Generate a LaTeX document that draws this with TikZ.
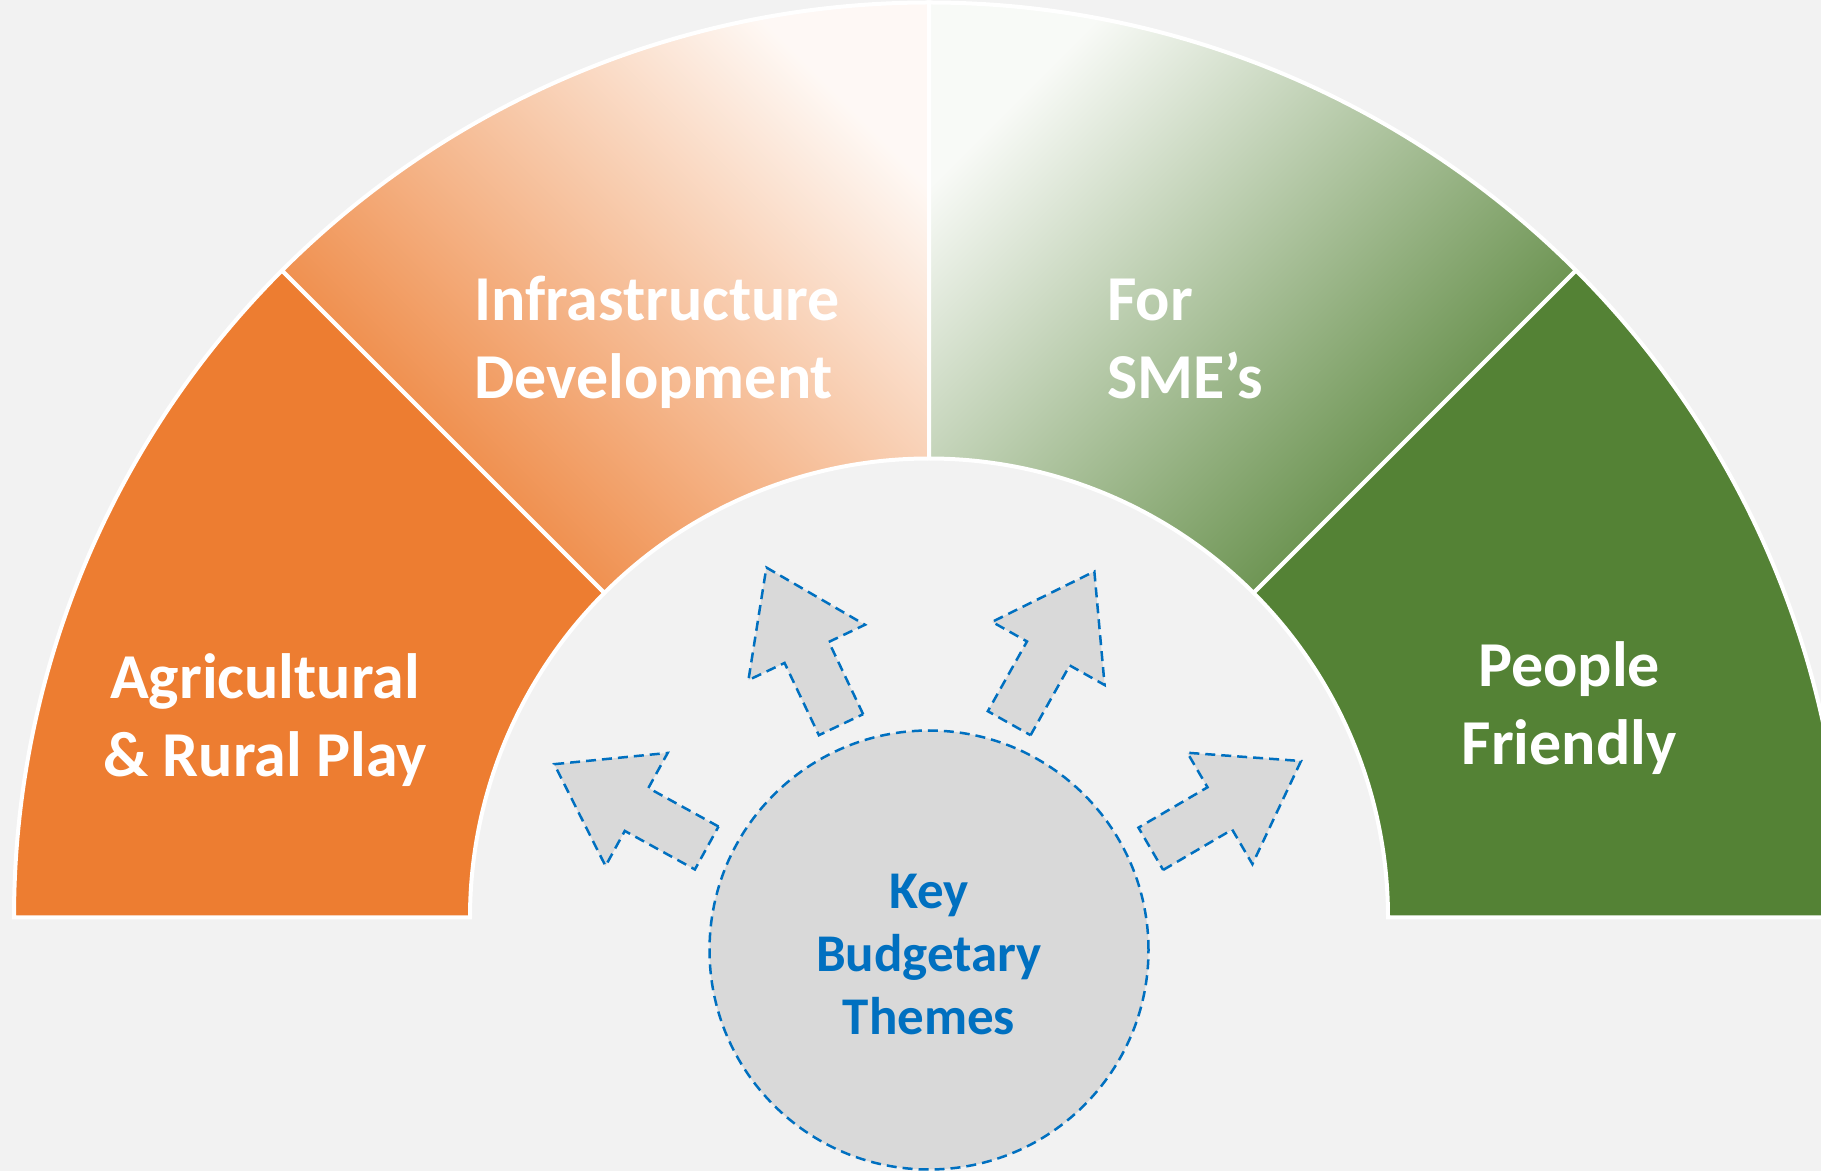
\documentclass[tikz,border=0pt]{standalone}
\usepackage{fontspec}
\setmainfont{Carlito}
\usetikzlibrary{calc}
\definecolor{bg}{HTML}{F2F2F2}
\definecolor{agri}{HTML}{ED7D31}
\definecolor{people}{HTML}{548235}
\definecolor{hub}{HTML}{D9D9D9}
\definecolor{hubblue}{HTML}{0070C0}
\begin{document}
\begin{tikzpicture}[x=1pt,y=1pt,
  seg/.style={draw=white, line width=4pt, line join=miter},
  seglabel/.style={text=white, font=\fontsize{64}{78}\selectfont\bfseries, inner sep=0pt},
  hubline/.style={draw=hubblue, line width=2.5pt, dash pattern=on 10pt off 6pt},
  blockarrow/.pic={\path[fill=hub, hubline] (0,-24.5) -- (80,-24.5) -- (80,-64.5) -- (174,0) -- (80,64.5) -- (80,24.5) -- (0,24.5) -- cycle;}
]
\fill[bg] (0,0) rectangle (1821,1171);
\clip (0,0) rectangle (1821,1171);
\coordinate (C) at (929,253.5);
\def\Ro{915}\def\Ri{459}
% the four ring segments, left to right
\path[seg, fill=agri] ($(C)+(180:\Ro)$) arc[start angle=180, end angle=135, radius=\Ro]
  -- ($(C)+(135:\Ri)$) arc[start angle=135, end angle=180, radius=\Ri] -- cycle;
\path[seg, shade, top color=agri!5!white, bottom color=agri, shading angle=-45] ($(C)+(135:\Ro)$) arc[start angle=135, end angle=90, radius=\Ro]
  -- ($(C)+(90:\Ri)$) arc[start angle=90, end angle=135, radius=\Ri] -- cycle;
\path[seg, shade, top color=people!4!white, bottom color=people, shading angle=45] ($(C)+(90:\Ro)$) arc[start angle=90, end angle=45, radius=\Ro]
  -- ($(C)+(45:\Ri)$) arc[start angle=45, end angle=90, radius=\Ri] -- cycle;
\path[seg, fill=people] ($(C)+(45:\Ro)$) arc[start angle=45, end angle=0, radius=\Ro]
  -- ($(C)+(0:\Ri)$) arc[start angle=0, end angle=45, radius=\Ri] -- cycle;
% segment labels (anchored on the baseline of their last line)
\node[seglabel, anchor=base west, align=left] (infra) at (474,772) {Infrastructure\\Development};
\node[seglabel, anchor=base west, align=left] (sme) at (1107,772) {For\\SME’s};
\node[seglabel, anchor=base, align=center] (agri) at (265,394) {Agricultural\\\& Rural Play};
\node[seglabel, anchor=base, align=center] (people) at (1569,406) {People\\Friendly};
% hub and outward arrows
\node[circle, minimum size=439pt, fill=hub, hubline, inner sep=0pt] (hub) at (929,221) {};
\node[text=hubblue, font=\fontsize{53}{63}\selectfont\bfseries, align=center, anchor=base, inner sep=0pt] (theme) at (929,137) {Key\\Budgetary\\Themes};
\pic[rotate=115.4] at (841,446.3) {blockarrow};
\pic[rotate=151.2] at (706.7,323) {blockarrow};
\pic[rotate=60.7] at (1009.2,447.8) {blockarrow};
\pic[rotate=30.3] at (1150.8,322.2) {blockarrow};
\end{tikzpicture}
\end{document}
